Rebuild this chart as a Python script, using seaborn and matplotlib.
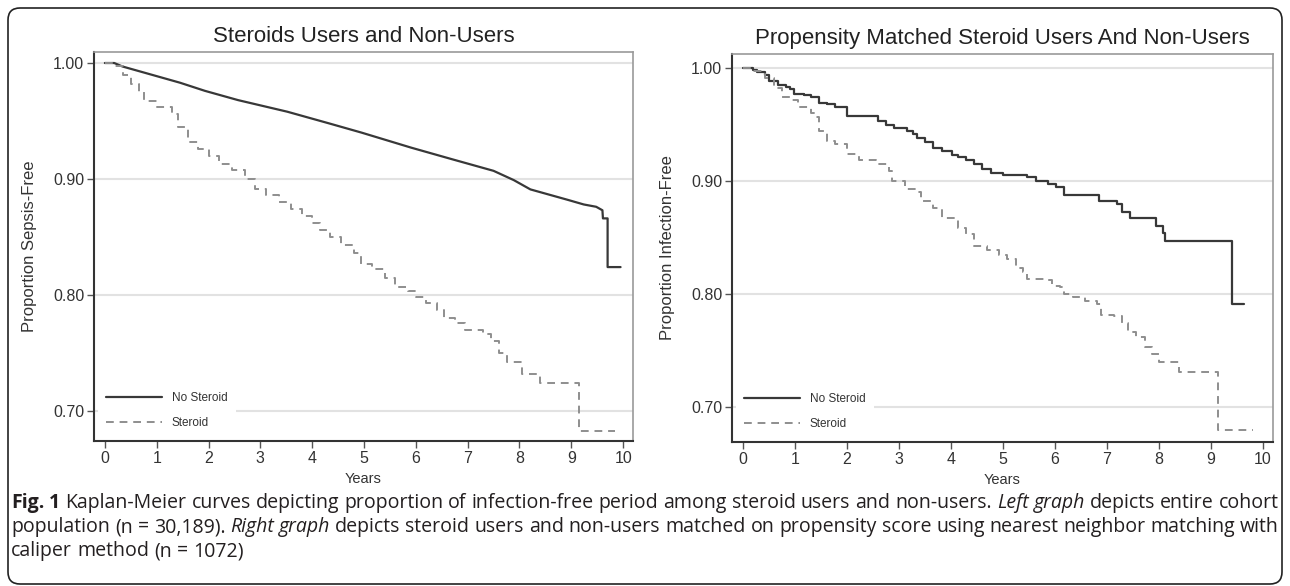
import numpy as np
import pandas as pd
import matplotlib.pyplot as plt
import seaborn as sns
from matplotlib.patches import FancyBboxPatch

# Left graph: entire cohort
left_none_years = [0, 0.18, 0.34, 1.45, 1.93, 2.57, 3.52, 4.32, 4.95, 5.91, 6.70, 7.50,
                   7.89, 8.21, 8.93, 9.24, 9.48, 9.60, 9.61, 9.70, 9.70, 9.95]
left_none_surv = [1.0, 1.0, 0.997, 0.983, 0.976, 0.968, 0.958, 0.948, 0.940, 0.927, 0.917, 0.907,
                  0.899, 0.891, 0.882, 0.878, 0.876, 0.873, 0.866, 0.866, 0.824, 0.824]

left_ster_years = [0, 0.2, 0.35, 0.5, 0.65, 0.75, 1.0, 1.3, 1.42, 1.6, 1.8, 2.0, 2.2, 2.45, 2.7,
                   2.9, 3.1, 3.35, 3.6, 3.8, 4.0, 4.15, 4.35, 4.55, 4.8, 4.95, 5.15, 5.4, 5.6,
                   5.85, 6.0, 6.2, 6.4, 6.55, 6.75, 6.95, 7.3, 7.45, 7.6, 7.75, 8.05, 8.4, 9.15, 9.85]
left_ster_surv = [1.0, 0.997, 0.99, 0.982, 0.975, 0.967, 0.962, 0.956, 0.945, 0.932, 0.926, 0.92,
                  0.913, 0.908, 0.9, 0.891, 0.886, 0.88, 0.874, 0.868, 0.862, 0.856, 0.85, 0.843,
                  0.836, 0.827, 0.822, 0.815, 0.807, 0.803, 0.798, 0.793, 0.787, 0.780, 0.776,
                  0.770, 0.766, 0.760, 0.750, 0.742, 0.732, 0.724, 0.683, 0.683]

# Right graph: propensity matched
right_none_years = [0, 0.2, 0.28, 0.43, 0.51, 0.67, 0.83, 0.91, 0.98, 1.18, 1.3, 1.46, 1.61, 1.77,
                    2.0, 2.6, 2.75, 2.9, 3.15, 3.27, 3.35, 3.5, 3.66, 3.82, 4.02, 4.13, 4.29, 4.45,
                    4.6, 4.76, 5.0, 5.47, 5.63, 5.87, 6.02, 6.18, 6.85, 7.2, 7.28, 7.44, 7.95, 8.07,
                    8.11, 9.41, 9.63]
right_none_surv = [1.0, 0.998, 0.996, 0.993, 0.988, 0.985, 0.983, 0.981, 0.977, 0.976, 0.974, 0.969,
                   0.968, 0.965, 0.957, 0.953, 0.949, 0.947, 0.944, 0.941, 0.938, 0.934, 0.929,
                   0.926, 0.923, 0.921, 0.918, 0.915, 0.910, 0.907, 0.905, 0.903, 0.900, 0.897,
                   0.894, 0.887, 0.882, 0.879, 0.872, 0.867, 0.860, 0.854, 0.847, 0.791, 0.791]

right_ster_years = [0, 0.2, 0.43, 0.59, 0.75, 0.91, 1.06, 1.3, 1.38, 1.46, 1.61, 1.77, 2.0, 2.24,
                    2.56, 2.8, 2.87, 3.11, 3.35, 3.43, 3.66, 3.82, 4.13, 4.29, 4.45, 4.69, 4.92,
                    5.08, 5.24, 5.39, 5.47, 5.79, 5.94, 6.1, 6.18, 6.34, 6.57, 6.81, 6.89, 7.13,
                    7.28, 7.4, 7.56, 7.72, 7.87, 7.99, 8.39, 9.13, 9.8]
right_ster_surv = [1.0, 0.997, 0.991, 0.982, 0.974, 0.971, 0.965, 0.960, 0.956, 0.944, 0.935, 0.932,
                   0.924, 0.918, 0.915, 0.909, 0.900, 0.893, 0.890, 0.882, 0.876, 0.867, 0.858,
                   0.853, 0.842, 0.839, 0.834, 0.831, 0.823, 0.819, 0.813, 0.812, 0.807, 0.806,
                   0.800, 0.797, 0.794, 0.791, 0.781, 0.780, 0.774, 0.766, 0.762, 0.753, 0.747,
                   0.740, 0.731, 0.680, 0.680]

titles = ["Steroids Users and Non-Users", "Propensity Matched Steroid Users And Non-Users"]
ylabels = ["Proportion Sepsis-Free", "Proportion Infection-Free"]
yticks = [0.70, 0.80, 0.90, 1.00]
xticks = list(range(0, 11))

caption_lines = [
    [("Fig. 1", "bold", "normal"),
     ("Kaplan-Meier curves depicting proportion of infection-free period among steroid users and non-users.", "normal", "normal"),
     ("Left graph", "normal", "italic"),
     ("depicts entire cohort", "normal", "normal")],
    [("population (n = 30,189).", "normal", "normal"),
     ("Right graph", "normal", "italic"),
     ("depicts steroid users and non-users matched on propensity score using nearest neighbor matching with", "normal", "normal")],
    [("caliper method (n = 1072)", "normal", "normal")],
]

sns.set_style("white")
plt.rcParams['font.family'] = ['Liberation Sans', 'DejaVu Sans']

W, H = 1290, 586
fig = plt.figure(figsize=(W / 100, H / 100), dpi=100)

solid_c = '#383838'
dash_c = '#8e8e8e'

panels = [
    dict(rect=[94 / W, 1 - 441 / H, 539 / W, 389 / H], ylim=(0.674, 1.0095),
         none=(left_none_years, left_none_surv, 'default'),
         ster=(left_ster_years, left_ster_surv, 'steps-post')),
    dict(rect=[732 / W, 1 - 442 / H, 541 / W, 388 / H], ylim=(0.669, 1.012),
         none=(right_none_years, right_none_surv, 'steps-post'),
         ster=(right_ster_years, right_ster_surv, 'steps-post')),
]

for i, p in enumerate(panels):
    ax = fig.add_axes(p['rect'])
    for y in yticks:
        ax.axhline(y, color='#e2e2e2', lw=1.5, zorder=0)

    xs, ys, ds = p['none']
    df = pd.DataFrame({'Years': xs, 'surv': ys})
    sns.lineplot(data=df, x='Years', y='surv', ax=ax, estimator=None, sort=False,
                 color=solid_c, lw=1.6, drawstyle=ds, label='No Steroid', zorder=3)
    xs, ys, ds = p['ster']
    df = pd.DataFrame({'Years': xs, 'surv': ys})
    sns.lineplot(data=df, x='Years', y='surv', ax=ax, estimator=None, sort=False,
                 color=dash_c, lw=1.4, ls=(0, (4, 3)), drawstyle=ds, label='Steroid', zorder=3)

    ax.set_xlim(-0.21, 10.19)
    ax.set_ylim(*p['ylim'])
    ax.set_xticks(xticks)
    ax.set_yticks(yticks)
    ax.set_yticklabels([f"{v:.2f}" for v in yticks])
    ax.tick_params(direction='out', length=5, width=1, color='#555555',
                   labelsize=11.5, labelcolor='#333333', pad=2,
                   bottom=True, left=True)
    for s in ['left', 'bottom']:
        ax.spines[s].set_color('#333333')
        ax.spines[s].set_linewidth(1.5)
    for s in ['top', 'right']:
        ax.spines[s].set_color('#9a9a9a')
        ax.spines[s].set_linewidth(1.2)

    ax.set_title(titles[i], fontsize=16, color='#222222', pad=7)
    ax.set_xlabel('Years', fontsize=10.5, color='#333333')
    ax.set_ylabel(ylabels[i], fontsize=12, color='#333333')
    ax.xaxis.set_label_coords(0.5, -0.08)
    ax.yaxis.set_label_coords(-0.105, 0.5)

    leg = ax.legend(loc='lower left', bbox_to_anchor=(0.0, 0.0), frameon=True,
                    fontsize=8.5, handlelength=4.8, labelspacing=1.1,
                    borderpad=0.7, borderaxespad=0.3, handletextpad=0.8)
    leg.get_frame().set_facecolor('white')
    leg.get_frame().set_edgecolor('none')
    leg.get_frame().set_alpha(1)
    for t in leg.get_texts():
        t.set_color('#333333')

# caption, laid out word by word
fig.canvas.draw()
r = fig.canvas.get_renderer()
cap_font = ['Open Sans', 'DejaVu Sans']
x_left, x_right = 11, 1279
line_y = [503, 527, 551]


def text_width(word, size, weight='normal', style='normal'):
    t = fig.text(0, 0, word, fontsize=size, family=cap_font, weight=weight, style=style)
    w = t.get_window_extent(r).width
    t.remove()
    return w


# size chosen so the first caption line fills the width with ordinary spacing
ref = 10.0
sp = text_width('a a', ref) - text_width('aa', ref)
line1 = [(wd, wt, st) for txt, wt, st in caption_lines[0] for wd in txt.split(' ')]
natural = sum(text_width(wd, ref, wt, st) for wd, wt, st in line1) + sp * (len(line1) - 1)
cap_size = ref * (x_right - x_left) / natural

space_w = text_width('a a', cap_size) - text_width('aa', cap_size)
for li, runs in enumerate(caption_lines):
    words = []
    for txt, weight, style in runs:
        for wd in txt.split(' '):
            words.append((wd, weight, style, text_width(wd, cap_size, weight, style)))
    total = sum(w[3] for w in words)
    if li < len(caption_lines) - 1:
        gap = (x_right - x_left - total) / (len(words) - 1)
    else:
        gap = space_w
    x = x_left
    for wd, weight, style, w in words:
        fig.text(x / W, 1 - line_y[li] / H, wd, fontsize=cap_size, family=cap_font,
                 weight=weight, style=style, color='#231f20', va='center')
        x += w + gap

border = FancyBboxPatch((0.08, 0.02), 12.74, 5.76, boxstyle='round,pad=0,rounding_size=0.12',
                        transform=fig.dpi_scale_trans, fill=False, edgecolor='#222222', lw=1.2)
fig.patches.append(border)

fig.savefig('out.png', dpi=100)
